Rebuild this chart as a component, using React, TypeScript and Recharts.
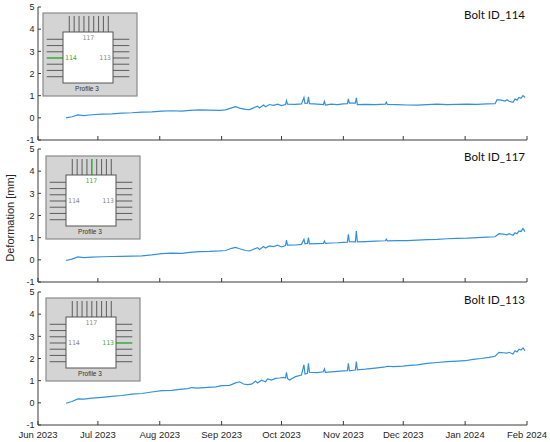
import React from 'react';
import { LineChart, Line, XAxis, YAxis } from 'recharts';

// ---------- data ----------
const dates114 = [
  '2023-06-15','2023-06-18','2023-06-21','2023-06-24','2023-06-28','2023-07-03','2023-07-08','2023-07-13','2023-07-18','2023-07-23',
  '2023-07-28','2023-08-02','2023-08-07','2023-08-12','2023-08-16','2023-08-21','2023-08-26','2023-08-31','2023-09-03','2023-09-06',
  '2023-09-08','2023-09-10','2023-09-13','2023-09-15','2023-09-17','2023-09-19','2023-09-20','2023-09-22','2023-09-23','2023-09-25',
  '2023-09-27','2023-09-29','2023-10-01','2023-10-03','2023-10-03 12','2023-10-04','2023-10-08','2023-10-11','2023-10-12 06','2023-10-12 18',
  '2023-10-14','2023-10-14 12','2023-10-15','2023-10-19','2023-10-22','2023-10-22 12','2023-10-23','2023-10-26','2023-10-29','2023-11-01',
  '2023-11-03','2023-11-03 12','2023-11-04','2023-11-07','2023-11-07 12','2023-11-08','2023-11-12','2023-11-17','2023-11-22','2023-11-22 12',
  '2023-11-23','2023-11-28','2023-12-03','2023-12-08','2023-12-13','2023-12-18','2023-12-23','2023-12-28','2024-01-02','2024-01-07',
  '2024-01-12','2024-01-16','2024-01-17','2024-01-19','2024-01-21','2024-01-22','2024-01-23','2024-01-25','2024-01-26','2024-01-27',
  '2024-01-28','2024-01-29','2024-01-30','2024-01-31',
];
const values114 = [
  0.00,0.05,0.13,0.10,0.14,0.17,0.18,0.21,0.23,0.26,
  0.27,0.30,0.32,0.30,0.34,0.36,0.35,0.34,0.36,0.45,
  0.50,0.44,0.38,0.37,0.45,0.52,0.44,0.58,0.50,0.60,
  0.56,0.62,0.55,0.60,0.78,0.62,0.61,0.63,0.92,0.65,
  0.66,0.95,0.64,0.62,0.60,0.74,0.58,0.62,0.60,0.63,
  0.64,0.86,0.66,0.66,0.90,0.60,0.61,0.60,0.62,0.70,
  0.61,0.60,0.58,0.57,0.60,0.62,0.60,0.61,0.62,0.61,
  0.63,0.64,0.82,0.80,0.76,0.82,0.75,0.70,0.85,0.80,
  0.92,0.88,1.00,0.92,
];

const dates117 = [
  '2023-06-15','2023-06-18','2023-06-21','2023-06-24','2023-06-28','2023-07-03','2023-07-08','2023-07-13','2023-07-18','2023-07-23',
  '2023-07-28','2023-08-02','2023-08-07','2023-08-12','2023-08-16','2023-08-21','2023-08-26','2023-08-31','2023-09-03','2023-09-06',
  '2023-09-08','2023-09-10','2023-09-13','2023-09-15','2023-09-17','2023-09-19','2023-09-20','2023-09-22','2023-09-23','2023-09-25',
  '2023-09-27','2023-09-29','2023-10-01','2023-10-03','2023-10-03 12','2023-10-04','2023-10-08','2023-10-11','2023-10-12 06','2023-10-12 18',
  '2023-10-14','2023-10-14 12','2023-10-15','2023-10-19','2023-10-22','2023-10-22 12','2023-10-23','2023-10-26','2023-10-29','2023-11-01',
  '2023-11-03','2023-11-03 12','2023-11-04','2023-11-07','2023-11-07 12','2023-11-08','2023-11-12','2023-11-17','2023-11-22','2023-11-22 12',
  '2023-11-23','2023-11-28','2023-12-03','2023-12-08','2023-12-13','2023-12-18','2023-12-23','2023-12-28','2024-01-02','2024-01-07',
  '2024-01-12','2024-01-16','2024-01-18','2024-01-20','2024-01-22','2024-01-23','2024-01-25','2024-01-26','2024-01-27','2024-01-28',
  '2024-01-29','2024-01-30','2024-01-31',
];
const values117 = [
  -0.03,0.03,0.13,0.10,0.12,0.14,0.15,0.16,0.17,0.18,
  0.22,0.28,0.30,0.29,0.34,0.37,0.38,0.40,0.42,0.52,
  0.56,0.50,0.42,0.40,0.48,0.55,0.47,0.60,0.53,0.63,
  0.60,0.66,0.58,0.64,0.89,0.66,0.67,0.70,0.93,0.72,
  0.74,1.00,0.72,0.73,0.74,0.85,0.74,0.76,0.77,0.79,
  0.80,1.15,0.82,0.81,1.30,0.81,0.82,0.84,0.86,0.93,
  0.86,0.87,0.87,0.89,0.91,0.92,0.95,0.97,0.98,1.00,
  1.02,1.04,1.18,1.16,1.13,1.18,1.11,1.22,1.18,1.30,
  1.28,1.41,1.27,
];

const dates113 = [
  '2023-06-15','2023-06-18','2023-06-21','2023-06-24','2023-06-28','2023-07-03','2023-07-08','2023-07-13','2023-07-18','2023-07-23',
  '2023-07-28','2023-08-02','2023-08-07','2023-08-11','2023-08-15','2023-08-17','2023-08-20','2023-08-25','2023-08-29','2023-09-01',
  '2023-09-05','2023-09-08','2023-09-10','2023-09-12','2023-09-14','2023-09-16','2023-09-18','2023-09-19','2023-09-21','2023-09-23',
  '2023-09-24','2023-09-26','2023-09-28','2023-09-30','2023-10-02','2023-10-03','2023-10-03 12','2023-10-04','2023-10-05','2023-10-08',
  '2023-10-11','2023-10-12 06','2023-10-12 18','2023-10-14','2023-10-14 12','2023-10-15','2023-10-19','2023-10-22','2023-10-22 12','2023-10-23',
  '2023-10-26','2023-10-29','2023-11-01','2023-11-03','2023-11-03 12','2023-11-04','2023-11-06','2023-11-07','2023-11-07 12','2023-11-08',
  '2023-11-12','2023-11-17','2023-11-22','2023-11-23','2023-11-26','2023-12-01','2023-12-03','2023-12-08','2023-12-13','2023-12-18',
  '2023-12-23','2023-12-28','2024-01-01','2024-01-05','2024-01-09','2024-01-13','2024-01-16','2024-01-18','2024-01-20','2024-01-22',
  '2024-01-23','2024-01-25','2024-01-26','2024-01-27','2024-01-28','2024-01-29','2024-01-30','2024-01-31',
];
const values113 = [
  -0.02,0.06,0.18,0.17,0.21,0.25,0.29,0.33,0.39,0.42,
  0.49,0.55,0.56,0.61,0.64,0.69,0.66,0.70,0.72,0.78,
  0.79,0.90,0.95,0.85,0.82,0.84,0.98,0.90,1.02,0.95,
  1.08,1.03,1.10,1.12,1.15,1.12,1.38,1.10,1.03,1.18,
  1.25,1.72,1.30,1.33,1.78,1.38,1.36,1.40,1.53,1.38,
  1.40,1.42,1.44,1.45,1.78,1.44,1.47,1.48,1.86,1.49,
  1.52,1.57,1.62,1.65,1.63,1.66,1.68,1.71,1.78,1.82,
  1.86,1.88,1.90,1.96,2.00,2.05,2.10,2.28,2.26,2.24,
  2.28,2.20,2.35,2.30,2.42,2.38,2.48,2.36,
];

const monthLabels = ['Jun 2023','Jul 2023','Aug 2023','Sep 2023','Oct 2023','Nov 2023','Dec 2023','Jan 2024','Feb 2024'];
const monthStarts = ['2023-06-01','2023-07-01','2023-08-01','2023-09-01','2023-10-01','2023-11-01','2023-12-01','2024-01-01','2024-02-01'];
const yTicks = [-1, 0, 1, 2, 3, 4, 5];

// ---------- helpers ----------
const parseDate = (s: string) => {
  const [d, h] = s.split(' ');
  const [y, m, dd] = d.split('-').map(Number);
  return Date.UTC(y, m - 1, dd, h ? Number(h) : 0);
};
const build = (dates: string[], vals: number[]) => dates.map((d, i) => ({ t: parseDate(d), v: vals[i] }));
const xTicks = monthStarts.map(parseDate);
const domainX: [number, number] = [xTicks[0], xTicks[xTicks.length - 1]];
const fmtX = (t: number) => monthLabels[xTicks.indexOf(t)] ?? '';

const AX = '#3a3a3a';
const LINE = '#3390dd';
const GREEN = '#3aa83a';
const FONT = '"Liberation Sans", Arial, sans-serif';

const PLOT_H = 133;
const TOP_M = 5;
const XA_H = 20;

function Panel({ data, top, showX }: { data: { t: number; v: number }[]; top: number; showX: boolean }) {
  return (
    <div style={{ position: 'absolute', left: 0, top: top - TOP_M }}>
      <LineChart width={550} height={TOP_M + PLOT_H + XA_H} data={data} margin={{ top: TOP_M, right: 23, bottom: 0, left: 5 }}>
        <XAxis
          xAxisId="b" dataKey="t" type="number" scale="time" domain={domainX} ticks={xTicks}
          allowDataOverflow tickFormatter={showX ? fmtX : () => ''} height={XA_H}
          stroke={AX} tickSize={-4} tickMargin={10.5} interval={0}
          tick={{ fontSize: 9.5, fill: '#262626', fontFamily: FONT }}
        />
        <XAxis
          xAxisId="t" orientation="top" dataKey="t" type="number" scale="time" domain={domainX} ticks={xTicks}
          allowDataOverflow tickFormatter={() => ''} height={0} stroke={AX} tickSize={-4} interval={0}
        />
        <YAxis
          yAxisId="l" domain={[-1, 5]} ticks={yTicks} width={33} stroke={AX} tickSize={-3} tickMargin={6.5}
          interval={0} tick={{ fontSize: 9, fill: '#262626', fontFamily: FONT }}
        />
        <YAxis
          yAxisId="r" orientation="right" domain={[-1, 5]} ticks={yTicks} width={0} stroke={AX} tickSize={-3}
          interval={0} tickFormatter={() => ''}
        />
        <Line xAxisId="b" yAxisId="l" dataKey="v" type="linear" stroke={LINE} strokeWidth={1.2} dot={false} isAnimationActive={false} />
      </LineChart>
    </div>
  );
}

function Inset({ x, y, hl }: { x: number; y: number; hl: 'left' | 'top' | 'right' }) {
  const topXs = Array.from({ length: 9 }, (_, i) => 26.3 + i * 4.875);
  const sideYs = Array.from({ length: 7 }, (_, i) => 26.3 + i * 6.23);
  const gray = '#666';
  return (
    <g transform={`translate(${x},${y})`}>
      <rect x={0} y={0} width={94} height={83} fill="#d4d4d4" stroke="#8a8a8a" strokeWidth={1.2} />
      {topXs.map((lx, i) => (
        <line key={'t' + i} x1={lx} x2={lx} y1={3} y2={19} stroke={hl === 'top' && i === 4 ? GREEN : gray} strokeWidth={hl === 'top' && i === 4 ? 1.5 : 1.1} />
      ))}
      {sideYs.map((ly, i) => (
        <line key={'l' + i} x1={3.7} x2={20} y1={ly} y2={ly} stroke={hl === 'left' && i === 3 ? GREEN : gray} strokeWidth={hl === 'left' && i === 3 ? 1.5 : 1.1} />
      ))}
      {sideYs.map((ly, i) => (
        <line key={'r' + i} x1={70} x2={86.3} y1={ly} y2={ly} stroke={hl === 'right' && i === 3 ? GREEN : gray} strokeWidth={hl === 'right' && i === 3 ? 1.5 : 1.1} />
      ))}
      <rect x={20} y={19} width={50} height={51} fill="#ffffff" stroke="#555" strokeWidth={1} />
      <text x={45.3} y={24.5} fontSize={6.5} fill={hl === 'top' ? GREEN : '#888'} textAnchor="middle" dominantBaseline="central" fontFamily="'DejaVu Sans Mono', monospace">117</text>
      <text x={22} y={45.3} fontSize={6.5} fill={hl === 'left' ? GREEN : '#888'} textAnchor="start" dominantBaseline="central" fontFamily="'DejaVu Sans Mono', monospace">114</text>
      <text x={68} y={45.3} fontSize={6.5} fill={hl === 'right' ? GREEN : '#888'} textAnchor="end" dominantBaseline="central" fontFamily="'DejaVu Sans Mono', monospace">113</text>
      <text x={44} y={75.5} fontSize={6.5} fill="#333" textAnchor="middle" dominantBaseline="central" fontFamily={FONT}>Profile 3</text>
    </g>
  );
}

export default function App() {
  const d114 = build(dates114, values114);
  const d117 = build(dates117, values117);
  const d113 = build(dates113, values113);
  return (
    <div style={{ position: 'absolute', left: 0, top: 0, width: 550, height: 442, background: '#fff', fontFamily: FONT }}>
      <Panel data={d114} top={7} showX={false} />
      <Panel data={d117} top={149} showX={false} />
      <Panel data={d113} top={292} showX={true} />
      <svg width={550} height={442} style={{ position: 'absolute', left: 0, top: 0, pointerEvents: 'none' }}>
        <Inset x={43} y={13} hl="left" />
        <Inset x={46} y={156} hl="top" />
        <Inset x={46} y={298} hl="right" />
        <text x={525} y={19} fontSize={11.5} fill="#111" textAnchor="end" fontFamily="Lato, 'Open Sans', sans-serif">Bolt ID_114</text>
        <text x={525} y={161} fontSize={11.5} fill="#111" textAnchor="end" fontFamily="Lato, 'Open Sans', sans-serif">Bolt ID_117</text>
        <text x={525} y={304} fontSize={11.5} fill="#111" textAnchor="end" fontFamily="Lato, 'Open Sans', sans-serif">Bolt ID_113</text>
        <text x={0} y={0} transform="translate(14,218) rotate(-90)" fontSize={11} fill="#262626" textAnchor="middle" fontFamily={FONT}>Deformation [mm]</text>
      </svg>
    </div>
  );
}
